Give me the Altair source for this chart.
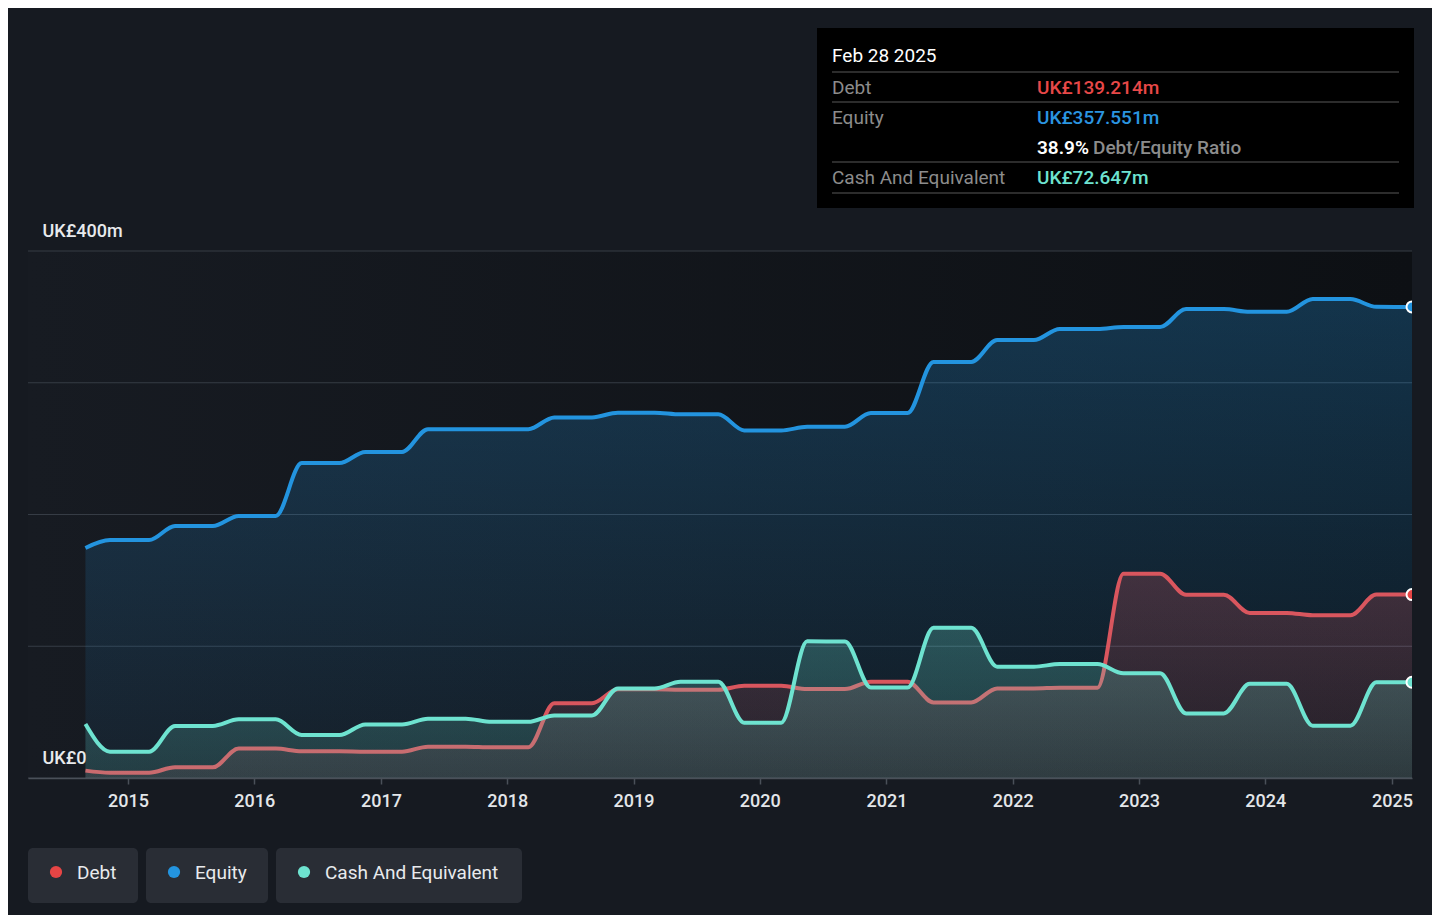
import altair as alt
import pandas as pd

# ---------------- data ----------------
dates = [
    "2014-08-31", "2014-11-10",
    "2015-03-03", "2015-05-17", "2015-09-03", "2015-11-17",
    "2016-03-03", "2016-05-17", "2016-09-03", "2016-11-17",
    "2017-03-03", "2017-05-17", "2017-09-03", "2017-11-17",
    "2018-03-03", "2018-05-17", "2018-09-03", "2018-11-17",
    "2019-03-03", "2019-05-17", "2019-09-03", "2019-11-17",
    "2020-03-03", "2020-05-17", "2020-09-03", "2020-11-17",
    "2021-03-03", "2021-05-17", "2021-09-03", "2021-11-17",
    "2022-03-03", "2022-05-17", "2022-09-03", "2022-11-17",
    "2023-03-03", "2023-05-17", "2023-09-03", "2023-11-17",
    "2024-03-03", "2024-05-17", "2024-09-03", "2024-11-17",
    "2025-02-28",
]

debt = [
    5.6, 4.0, 4.0, 8.1, 8.1, 22.3, 22.3, 20.3, 20.3, 20.0, 20.0,
    23.8, 23.8, 23.3, 23.3, 56.8, 56.8, 67.3, 67.3, 67.0, 67.0,
    70.0, 70.0, 67.5, 67.5, 73.1, 73.1, 57.4, 57.4, 68.0, 68.0,
    68.5, 68.5, 155.0, 155.0, 139.0, 139.0, 125.3, 125.3, 123.5, 123.5,
    139.2, 139.214,
]

equity = [
    174.6, 180.6, 180.6, 191.3, 191.3, 198.9, 198.9, 239.0, 239.0, 247.5, 247.5,
    264.8, 264.8, 264.8, 264.8, 273.7, 273.7, 277.3, 277.3, 276.0, 276.0,
    263.8, 263.8, 266.6, 266.6, 277.0, 277.0, 315.8, 315.8, 332.4, 332.4,
    340.8, 340.8, 342.3, 342.3, 356.0, 356.0, 353.8, 353.8, 363.5, 363.5,
    357.6, 357.551,
]

cash = [
    41.0, 20.0, 20.0, 39.5, 39.5, 44.5, 44.5, 32.6, 32.6, 40.7, 40.7,
    45.0, 45.0, 42.6, 42.6, 47.5, 47.5, 68.0, 68.0, 73.1, 73.1,
    42.0, 42.0, 103.7, 103.7, 68.6, 68.6, 114.0, 114.0, 84.5, 84.5,
    86.5, 86.5, 79.5, 79.5, 49.0, 49.0, 71.5, 71.5, 39.7, 39.7,
    72.6, 72.647,
]

series_names = ["Debt", "Equity", "Cash And Equivalent"]
line_colors = ["#d9565e", "#2394df", "#6ee3d0"]
dot_colors = ["#e64545", "#2394df", "#6ee3d0"]
year_ticks = list(range(2015, 2026))
grid_values = [0, 100, 200, 300, 400]
y_label_text = {0: "UK£0", 400: "UK£400m"}
tooltip_date = "Feb 28 2025"

# ---------------- layout ----------------
W, H = 1384, 527
FONT = "Roboto"

df = pd.DataFrame({"date": dates, "Debt": debt, "Equity": equity,
                   "Cash And Equivalent": cash})
long = df.melt("date", var_name="series", value_name="value")
one = pd.DataFrame({"a": [0]})

x_scale = alt.Scale(type="utc", domain=[
    alt.DateTime(year=2014, month=3, date=18, utc=True),
    alt.DateTime(year=2025, month=2, date=28, utc=True)])
y_scale = alt.Scale(domain=[0, 400], nice=False, zero=True)

x_axis = alt.Axis(
    values=[alt.DateTime(year=y, month=1, date=1, utc=True) for y in year_ticks],
    format="%Y", title=None, grid=False, labelFlush=False, labelOverlap=False,
    labelFont=FONT, labelFontSize=18, labelColor="#e3e6e9", labelFontWeight=500,
    tickColor="#4a5059", tickSize=6, tickWidth=1.5, labelPadding=8,
    domainColor="#4a5059", domainWidth=1.5, zindex=1)

label_expr = " : ".join(
    f"datum.value == {k} ? '{v}'" for k, v in y_label_text.items()) + " : ''"
y_axis = alt.Axis(
    values=grid_values, labelExpr=label_expr, title=None, grid=False,
    ticks=False, tickSize=0, domain=False, labelAlign="left",
    labelPadding=-14, labelOffset=-15, labelBaseline="alphabetic",
    labelFont=FONT, labelFontSize=18, labelColor="#e8eaed",
    labelFontWeight=500, labelOverlap=False, zindex=1)

X = alt.X("date:T", scale=x_scale, axis=x_axis)
Y = alt.Y("value:Q", scale=y_scale, axis=y_axis)


def vgrad(top, bottom):
    return alt.LinearGradient(
        gradient="linear", x1=0, x2=0, y1=0, y2=1,
        stops=[alt.GradientStop(color=top, offset=0),
               alt.GradientStop(color=bottom, offset=1)])


bg = alt.Chart(one).mark_rect(
    fill=alt.LinearGradient(
        gradient="linear", x1=0, x2=1, y1=0, y2=0,
        stops=[alt.GradientStop(color="#171b22", offset=0),
               alt.GradientStop(color="#0d1014", offset=1)])
).encode(x=alt.value(0), x2=alt.value(W), y=alt.value(0), y2=alt.value(H))

grid = alt.Chart(pd.DataFrame({"value": grid_values})).mark_rule(
    color="#363c45", strokeWidth=1
).encode(y=Y)

fills = {
    "Equity": vgrad("rgba(35,148,223,0.27)", "rgba(35,148,223,0.06)"),
    "Debt": vgrad("rgba(217,86,94,0.24)", "rgba(217,86,94,0.10)"),
    "Cash And Equivalent": vgrad("rgba(110,227,208,0.25)", "rgba(110,227,208,0.14)"),
}

layers = [bg, grid]
for name in ["Equity", "Debt", "Cash And Equivalent"]:
    d = long[long.series == name]
    col = line_colors[series_names.index(name)]
    layers.append(alt.Chart(d).mark_area(
        interpolate="monotone", fill=fills[name]).encode(x=X, y=Y))
    layers.append(alt.Chart(d).mark_line(
        interpolate="monotone", color=col, strokeWidth=4).encode(x=X, y=Y))

last = long[long.date == dates[-1]]
points = alt.Chart(last).mark_circle(
    size=120, opacity=1, stroke="white", strokeWidth=2, clip=True
).encode(x=X, y=Y, color=alt.Color(
    "series:N", scale=alt.Scale(domain=series_names, range=dot_colors),
    legend=None))
layers.append(points)


# ---------------- tooltip box ----------------
def txt(text, x, y, color, size=19, weight=400, align="left"):
    return alt.Chart(one).mark_text(
        text=text, align=align, baseline="middle", font=FONT, fontSize=size,
        fontWeight=weight, color=color
    ).encode(x=alt.value(x), y=alt.value(y))


def hline(x1, x2, y, color="#3b3b3b", w=1.5):
    return alt.Chart(one).mark_rule(color=color, strokeWidth=w).encode(
        x=alt.value(x1), x2=alt.value(x2), y=alt.value(y))


layers.append(alt.Chart(one).mark_rect(fill="#000000").encode(
    x=alt.value(789), x2=alt.value(1386), y=alt.value(-223), y2=alt.value(-43)))
for yy in [-179, -149, -89, -58]:
    layers.append(hline(804, 1371, yy))

ratio = debt[-1] / equity[-1] * 100
label_gray = "#8c8c8c"
layers += [
    txt(tooltip_date, 804, -195, "#ffffff", size=19),
    txt("Debt", 804, -163, label_gray),
    txt(f"UK£{debt[-1]:.3f}m", 1009, -163, "#e84848", weight=500),
    txt("Equity", 804, -133, label_gray),
    txt(f"UK£{equity[-1]:.3f}m", 1009, -133, "#2b95e0", weight=500),
    txt(f"{ratio:.1f}%", 1009, -103, "#ffffff", weight=600),
    txt("Debt/Equity Ratio", 1065, -103, label_gray, weight=500),
    txt("Cash And Equivalent", 804, -73, label_gray),
    txt(f"UK£{cash[-1]:.3f}m", 1009, -73, "#6ee3d0", weight=500),
]

# ---------------- legend buttons ----------------
legend_boxes = [(0, 110), (118, 240), (248, 494)]
for (bx1, bx2), name, col in zip(legend_boxes, series_names, dot_colors):
    layers.append(alt.Chart(one).mark_rect(fill="#292d35", cornerRadius=5).encode(
        x=alt.value(bx1), x2=alt.value(bx2), y=alt.value(597), y2=alt.value(652)))
    layers.append(alt.Chart(one).mark_circle(size=150, opacity=1, color=col).encode(
        x=alt.value(bx1 + 28), y=alt.value(621)))
    layers.append(txt(name, bx1 + 49, 622, "#e8eaed", size=19, weight=400))

chart = alt.layer(*layers).properties(
    width=W, height=H,
    autosize=alt.AutoSizeParams(type="none"),
    padding={"left": 20, "top": 243, "right": 20, "bottom": 137},
).configure(
    background="#161a21", font=FONT
).configure_view(stroke=None)

chart.save("out.html", embed_options={"renderer": "svg", "actions": False})
